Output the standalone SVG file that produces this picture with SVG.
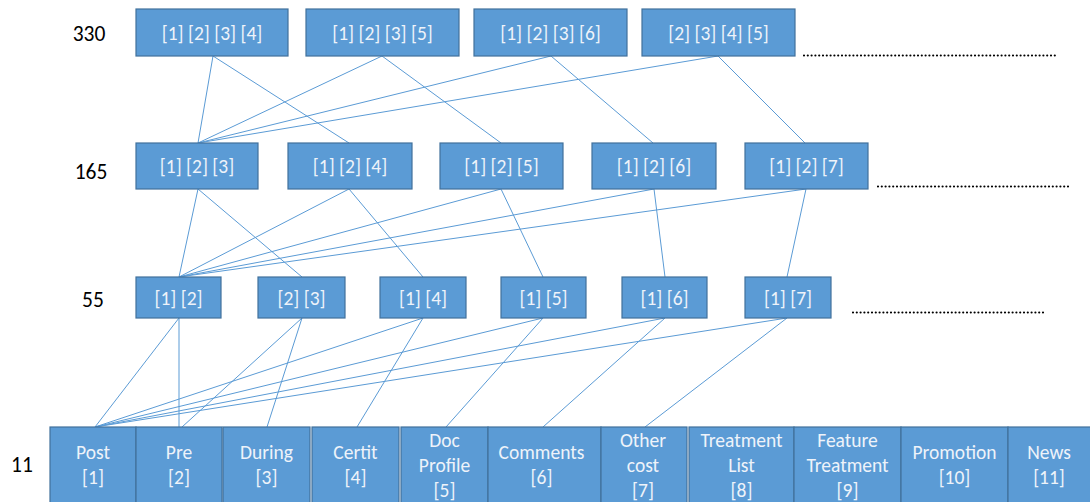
<svg xmlns="http://www.w3.org/2000/svg" width="1090" height="502" viewBox="0 0 1090 502">
  <style>
    .box { fill: #5B9BD5; stroke: #41719C; stroke-width: 1.2; }
    .lbl { font-family: "Carlito", "Liberation Sans", sans-serif; font-size: 19.5px; fill: #EEF3FA; text-anchor: middle; dominant-baseline: central; }
    .lvl { font-family: "Carlito", "Liberation Sans", sans-serif; font-size: 21.5px; fill: #000000; text-anchor: middle; dominant-baseline: central; }
    .edge { stroke: #5B9BD5; stroke-width: 1; fill: none; }
    .more { stroke: #000000; stroke-width: 2.2; stroke-linecap: round; stroke-dasharray: 0 3.8; }
  </style>
  <rect width="1090" height="502" fill="#FFFFFF"/>

  <!-- level counts -->
  <g id="levels">
    <text class="lvl" x="89" y="34">330</text>
    <text class="lvl" x="91" y="172">165</text>
    <text class="lvl" x="93" y="300">55</text>
    <text class="lvl" x="22" y="465">11</text>
  </g>

  <!-- connectors -->
  <g id="connectors">
    <!-- 4-combinations to 3-combinations -->
    <line class="edge" x1="213" y1="56" x2="198" y2="143"/>
    <line class="edge" x1="213" y1="56" x2="349" y2="143"/>
    <line class="edge" x1="382" y1="56" x2="198" y2="143"/>
    <line class="edge" x1="382" y1="56" x2="501" y2="143"/>
    <line class="edge" x1="551" y1="56" x2="198" y2="143"/>
    <line class="edge" x1="551" y1="56" x2="653" y2="143"/>
    <line class="edge" x1="718" y1="56" x2="198" y2="143"/>
    <line class="edge" x1="718" y1="56" x2="805" y2="143"/>
    <!-- 3-combinations to pairs -->
    <line class="edge" x1="198" y1="189" x2="179" y2="277"/>
    <line class="edge" x1="198" y1="189" x2="302" y2="277"/>
    <line class="edge" x1="349" y1="189" x2="179" y2="277"/>
    <line class="edge" x1="349" y1="189" x2="423" y2="277"/>
    <line class="edge" x1="501" y1="189" x2="179" y2="277"/>
    <line class="edge" x1="501" y1="189" x2="543" y2="277"/>
    <line class="edge" x1="654" y1="189" x2="179" y2="277"/>
    <line class="edge" x1="654" y1="189" x2="665" y2="277"/>
    <line class="edge" x1="806" y1="189" x2="179" y2="277"/>
    <line class="edge" x1="806" y1="189" x2="787" y2="277"/>
    <!-- pairs to single items -->
    <line class="edge" x1="179" y1="318" x2="95" y2="427"/>
    <line class="edge" x1="179" y1="318" x2="179" y2="427"/>
    <line class="edge" x1="302" y1="318" x2="182" y2="427"/>
    <line class="edge" x1="302" y1="318" x2="267" y2="427"/>
    <line class="edge" x1="423" y1="318" x2="95" y2="427"/>
    <line class="edge" x1="423" y1="318" x2="357" y2="427"/>
    <line class="edge" x1="543" y1="318" x2="95" y2="427"/>
    <line class="edge" x1="543" y1="318" x2="446" y2="427"/>
    <line class="edge" x1="665" y1="318" x2="95" y2="427"/>
    <line class="edge" x1="665" y1="318" x2="543" y2="427"/>
    <line class="edge" x1="787" y1="318" x2="95" y2="427"/>
    <line class="edge" x1="787" y1="318" x2="645" y2="427"/>
  </g>

  <!-- 4-combinations -->
  <g id="c1234"><rect class="box" x="136" y="9" width="152" height="47"/><text class="lbl" x="212" y="32.5">[1] [2] [3] [4]</text></g>
  <g id="c1235"><rect class="box" x="306" y="9" width="153" height="47"/><text class="lbl" x="382.5" y="32.5">[1] [2] [3] [5]</text></g>
  <g id="c1236"><rect class="box" x="474" y="9" width="153" height="47"/><text class="lbl" x="550.5" y="32.5">[1] [2] [3] [6]</text></g>
  <g id="c2345"><rect class="box" x="642" y="9" width="153" height="47"/><text class="lbl" x="718.5" y="32.5">[2] [3] [4] [5]</text></g>

  <!-- 3-combinations -->
  <g id="c123"><rect class="box" x="136" y="143" width="122" height="46"/><text class="lbl" x="197" y="166">[1] [2] [3]</text></g>
  <g id="c124"><rect class="box" x="288" y="143" width="124" height="46"/><text class="lbl" x="350" y="166">[1] [2] [4]</text></g>
  <g id="c125"><rect class="box" x="440" y="143" width="123" height="46"/><text class="lbl" x="501.5" y="166">[1] [2] [5]</text></g>
  <g id="c126"><rect class="box" x="592" y="143" width="124" height="46"/><text class="lbl" x="654" y="166">[1] [2] [6]</text></g>
  <g id="c127"><rect class="box" x="745" y="143" width="123" height="46"/><text class="lbl" x="806.5" y="166">[1] [2] [7]</text></g>

  <!-- pairs -->
  <g id="c12"><rect class="box" x="136" y="277" width="85" height="41"/><text class="lbl" x="178.5" y="297.5">[1] [2]</text></g>
  <g id="c23"><rect class="box" x="258" y="277" width="87" height="41"/><text class="lbl" x="301.5" y="297.5">[2] [3]</text></g>
  <g id="c14"><rect class="box" x="380" y="277" width="86" height="41"/><text class="lbl" x="423" y="297.5">[1] [4]</text></g>
  <g id="c15"><rect class="box" x="501" y="277" width="85" height="41"/><text class="lbl" x="543.5" y="297.5">[1] [5]</text></g>
  <g id="c16"><rect class="box" x="622" y="277" width="85" height="41"/><text class="lbl" x="664.5" y="297.5">[1] [6]</text></g>
  <g id="c17"><rect class="box" x="745" y="277" width="86" height="41"/><text class="lbl" x="788" y="297.5">[1] [7]</text></g>

  <!-- single items -->
  <g id="i1"><rect class="box" x="50" y="427" width="86" height="80"/><text class="lbl" x="93" y="452">Post</text><text class="lbl" x="93" y="477">[1]</text></g>
  <g id="i2"><rect class="box" x="136" y="427" width="86" height="80"/><text class="lbl" x="179" y="452">Pre</text><text class="lbl" x="179" y="477">[2]</text></g>
  <g id="i3"><rect class="box" x="223" y="427" width="87" height="80"/><text class="lbl" x="266.5" y="452">During</text><text class="lbl" x="266.5" y="477">[3]</text></g>
  <g id="i4"><rect class="box" x="312" y="427" width="87" height="80"/><text class="lbl" x="355.5" y="452">Certit</text><text class="lbl" x="355.5" y="477">[4]</text></g>
  <g id="i5"><rect class="box" x="401" y="427" width="87" height="80"/><text class="lbl" x="444.5" y="440">Doc</text><text class="lbl" x="444.5" y="465">Profile</text><text class="lbl" x="444.5" y="490">[5]</text></g>
  <g id="i6"><rect class="box" x="488" y="427" width="113" height="80"/><text class="lbl" x="541.5" y="452">Comments</text><text class="lbl" x="541.5" y="477">[6]</text></g>
  <g id="i7"><rect class="box" x="601" y="427" width="86" height="80"/><text class="lbl" x="643" y="440">Other</text><text class="lbl" x="643" y="465">cost</text><text class="lbl" x="643" y="490">[7]</text></g>
  <g id="i8"><rect class="box" x="689" y="427" width="105" height="80"/><text class="lbl" x="741.5" y="440">Treatment</text><text class="lbl" x="741.5" y="465">List</text><text class="lbl" x="741.5" y="490">[8]</text></g>
  <g id="i9"><rect class="box" x="794" y="427" width="107" height="80"/><text class="lbl" x="847.5" y="440">Feature</text><text class="lbl" x="847.5" y="465">Treatment</text><text class="lbl" x="847.5" y="490">[9]</text></g>
  <g id="i10"><rect class="box" x="901" y="427" width="107" height="80"/><text class="lbl" x="954.5" y="452">Promotion</text><text class="lbl" x="954.5" y="477">[10]</text></g>
  <g id="i11"><rect class="box" x="1008" y="427" width="86" height="80"/><text class="lbl" x="1049" y="452">News</text><text class="lbl" x="1049" y="477">[11]</text></g>

  <!-- continuation marks -->
  <g id="continued">
    <line class="more" x1="804" y1="55.5" x2="1058" y2="55.5"/>
    <line class="more" x1="878" y1="186.5" x2="1070" y2="186.5"/>
    <line class="more" x1="853" y1="312.5" x2="1045" y2="312.5"/>
  </g>
</svg>
